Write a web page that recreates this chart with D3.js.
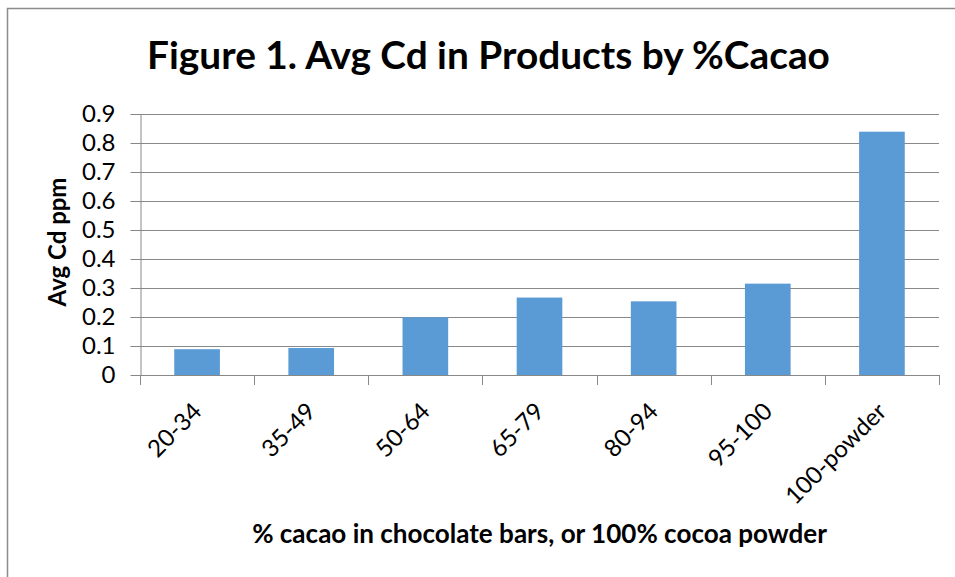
<!DOCTYPE html>
<html>
<head>
<meta charset="utf-8">
<script src="https://cdn.jsdelivr.net/npm/d3@7"></script>
<style>
  html, body { margin: 0; padding: 0; background: #fff; }
  svg { display: block; }
  text { font-family: Lato, "Open Sans", "Noto Sans", sans-serif; fill: #000; }
</style>
</head>
<body>
<svg id="chart" width="955" height="577"></svg>
<script>
const categories = ["20-34", "35-49", "50-64", "65-79", "80-94", "95-100", "100-powder"];
const values = [0.089, 0.093, 0.199, 0.267, 0.254, 0.315, 0.839];
const yTickValues = [0, 0.1, 0.2, 0.3, 0.4, 0.5, 0.6, 0.7, 0.8, 0.9];
const yTickLabels = ["0", "0.1", "0.2", "0.3", "0.4", "0.5", "0.6", "0.7", "0.8", "0.9"];
const titleText = "Figure 1. Avg Cd in Products by %Cacao";
const yTitleText = "Avg Cd ppm";
const xTitleText = "% cacao in chocolate bars, or 100% cocoa powder";

const svg = d3.select("#chart");
const W = 955, H = 577;
const plot = { left: 140, right: 939, top: 114, bottom: 375 };
const gridColor = "#888888";
const barColor = "#5B9BD5";

// outer border (left/top visible)
svg.append("rect")
  .attr("x", 7.5).attr("y", 8.5)
  .attr("width", W + 20).attr("height", H + 20)
  .attr("fill", "#fff")
  .attr("stroke", "#8c8c8c").attr("stroke-width", 1.5);

const x = d3.scaleBand()
  .domain(categories)
  .range([plot.left, plot.right])
  .paddingInner(0.6)
  .paddingOuter(0.3);

const y = d3.scaleLinear()
  .domain([0, 0.9])
  .range([plot.bottom, plot.top]);

// gridlines
svg.append("g")
  .selectAll("line")
  .data(yTickValues.filter(v => v > 0))
  .join("line")
  .attr("x1", plot.left).attr("x2", plot.right)
  .attr("y1", d => Math.round(y(d)) + 0.5).attr("y2", d => Math.round(y(d)) + 0.5)
  .attr("stroke", gridColor).attr("stroke-width", 1);

// bars
svg.append("g")
  .selectAll("rect")
  .data(categories.map((c, i) => ({ c, v: values[i] })))
  .join("rect")
  .attr("x", d => x(d.c))
  .attr("y", d => y(d.v))
  .attr("width", x.bandwidth())
  .attr("height", d => y(0) - y(d.v))
  .attr("fill", barColor);

// y axis
const yAxis = d3.axisLeft(y)
  .tickValues(yTickValues)
  .tickFormat((d, i) => yTickLabels[i])
  .tickSizeInner(10).tickSizeOuter(0).tickPadding(15);
const gy = svg.append("g")
  .attr("transform", `translate(${plot.left + 0.5},0)`)
  .call(yAxis);
gy.select(".domain").attr("stroke", gridColor);
gy.selectAll(".tick line").attr("stroke", gridColor);
gy.selectAll(".tick text")
  .attr("font-family", "Lato, 'Open Sans', sans-serif")
  .attr("font-size", 24)
  .attr("fill", "#000");

// x axis with ticks at band boundaries
const step = x.step();
const boundaries = d3.range(categories.length + 1).map(i => plot.left + i * step);
const gx = svg.append("g");
gx.append("line")
  .attr("x1", plot.left).attr("x2", plot.right)
  .attr("y1", plot.bottom + 0.5).attr("y2", plot.bottom + 0.5)
  .attr("stroke", gridColor);
gx.selectAll("line.tk")
  .data(boundaries)
  .join("line")
  .attr("class", "tk")
  .attr("x1", d => Math.round(d) + 0.5).attr("x2", d => Math.round(d) + 0.5)
  .attr("y1", plot.bottom).attr("y2", plot.bottom + 10)
  .attr("stroke", gridColor);

gx.selectAll("text.xl")
  .data(categories)
  .join("text")
  .attr("class", "xl")
  .attr("text-anchor", "end")
  .attr("font-size", 24)
  .attr("transform", d => `translate(${x(d) + x.bandwidth() / 2 + 6},${plot.bottom + 38}) rotate(-45)`)
  .text(d => d);

function fitText(sel, targetWidth) {
  const fs = parseFloat(sel.attr("font-size"));
  const w = sel.node().getComputedTextLength();
  if (w > 0) sel.attr("font-size", fs * targetWidth / w);
}

// title
const title = svg.append("text")
  .attr("x", 488.5).attr("y", 69)
  .attr("text-anchor", "middle")
  .attr("font-weight", "bold")
  .attr("font-size", 36)
  .text(titleText);
fitText(title, 683);

// y title
const yTitle = svg.append("text")
  .attr("transform", "translate(66,242) rotate(-90)")
  .attr("text-anchor", "middle")
  .attr("font-weight", "bold")
  .attr("font-size", 20)
  .text(yTitleText);
fitText(yTitle, 129);

// x title
const xTitle = svg.append("text")
  .attr("x", 539.5).attr("y", 543)
  .attr("text-anchor", "middle")
  .attr("font-weight", "bold")
  .attr("font-size", 22)
  .text(xTitleText);
fitText(xTitle, 575);
</script>
</body>
</html>
